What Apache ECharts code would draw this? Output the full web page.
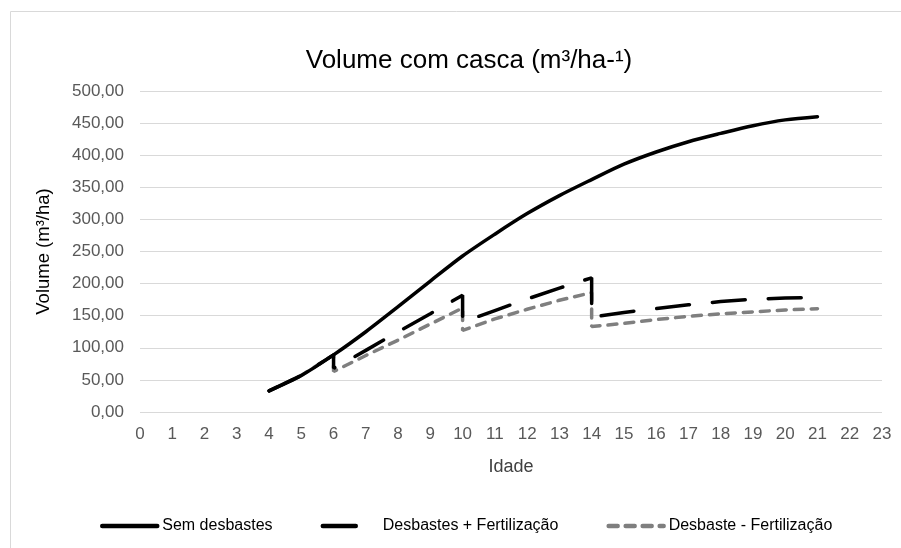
<!DOCTYPE html>
<html>
<head>
<meta charset="utf-8">
<script src="https://cdn.jsdelivr.net/npm/echarts@6/dist/echarts.min.js"></script>
<style>
  html, body { margin: 0; padding: 0; background: #fff; }
  #chart { width: 901px; height: 548px; }
</style>
</head>
<body>
<div id="chart"></div>
<script>
// idades (anos) e volumes (m³/ha)
const agesSem = [4, 5, 6, 7, 8, 9, 10, 11, 12, 13, 14, 15, 16, 17, 18, 19, 20, 21]
const volSem = [33, 57, 89, 125, 164, 204, 243, 277, 309, 337, 362, 386, 405, 421, 434, 446, 455, 460]

// desbastes aos 6, 10 e 14 anos -> idade repetida (antes / depois)
const agesDesb = [4, 5, 6, 6, 7, 8, 9, 10, 10, 11, 12, 13, 14, 14, 15, 16, 17, 18, 19, 20, 21]
const volDesbFert = [33, 57, 89, 68, 96, 125, 153, 182, 140, 158, 176, 193, 209, 148, 155, 161, 167, 172, 175.5, 177.5, 178.5]
const volDesbSemFert = [33, 57, 89, 63, 88, 112, 137, 162, 127, 145, 160, 174, 186, 133, 138, 144, 149, 153, 156, 159, 161]

const seriesNames = ['Sem desbastes', 'Desbastes + Fertilização', 'Desbaste - Fertilização']

const pairs = (xs, ys) => xs.map((x, i) => [x, ys[i]])
const fmt = v => v.toFixed(2).replace('.', ',')
const font = '"Liberation Sans", sans-serif'

const chart = echarts.init(document.getElementById('chart'))
chart.setOption({
  animation: false,
  textStyle: { fontFamily: font },
  graphic: [{
    type: 'rect', silent: true,
    shape: { x: 10.5, y: 11.5, width: 1000, height: 1000 },
    style: { fill: 'none', stroke: '#d9d9d9', lineWidth: 1 },
  }],
  title: {
    text: 'Volume com casca (m³/ha-¹)',
    left: 464, top: 43, textAlign: 'center',
    textStyle: { fontFamily: font, fontSize: 26, fontWeight: 'normal', color: '#000' },
  },
  grid: { left: 140, right: 19, top: 91, bottom: 136 },
  legend: {
    data: seriesNames,
    left: 95, top: 513,
    itemWidth: 55, itemHeight: 6, itemGap: 48,
    itemStyle: { opacity: 0 },
    lineStyle: { width: 4.5 },
    textStyle: { fontFamily: font, fontSize: 16, color: '#000' },
  },
  xAxis: {
    type: 'value', min: 0, max: 23, interval: 1,
    name: 'Idade', nameLocation: 'middle', nameGap: 46,
    nameTextStyle: { fontFamily: font, fontSize: 18, color: '#404040' },
    axisLine: { show: false },
    axisTick: { show: false },
    splitLine: { show: false },
    axisLabel: { fontFamily: font, fontSize: 17, color: '#595959', margin: 14 },
  },
  yAxis: {
    type: 'value', min: 0, max: 500, interval: 50,
    name: 'Volume (m³/ha)', nameLocation: 'middle', nameGap: 87,
    nameTextStyle: { fontFamily: font, fontSize: 18.5, color: '#000' },
    axisLine: { show: false },
    axisTick: { show: false },
    splitLine: { lineStyle: { color: '#d9d9d9', width: 1 } },
    axisLabel: { fontFamily: font, fontSize: 17, color: '#595959', margin: 16, formatter: fmt },
  },
  series: [
    {
      name: seriesNames[0], type: 'line', symbol: 'none', smooth: 0.3,
      data: pairs(agesSem, volSem),
      itemStyle: { color: '#000' },
      lineStyle: { color: '#000', width: 3.5, cap: 'round' },
      z: 3,
    },
    {
      name: seriesNames[1], type: 'line', symbol: 'none',
      data: pairs(agesDesb, volDesbFert),
      itemStyle: { color: '#000' },
      lineStyle: { color: '#000', width: 3.5, type: [33, 23], cap: 'round' },
      z: 2,
    },
    {
      name: seriesNames[2], type: 'line', symbol: 'none',
      data: pairs(agesDesb, volDesbSemFert),
      itemStyle: { color: '#7f7f7f' },
      lineStyle: { color: '#7f7f7f', width: 3.5, type: [9, 8], cap: 'round' },
      z: 1,
    },
  ],
})
</script>
</body>
</html>
